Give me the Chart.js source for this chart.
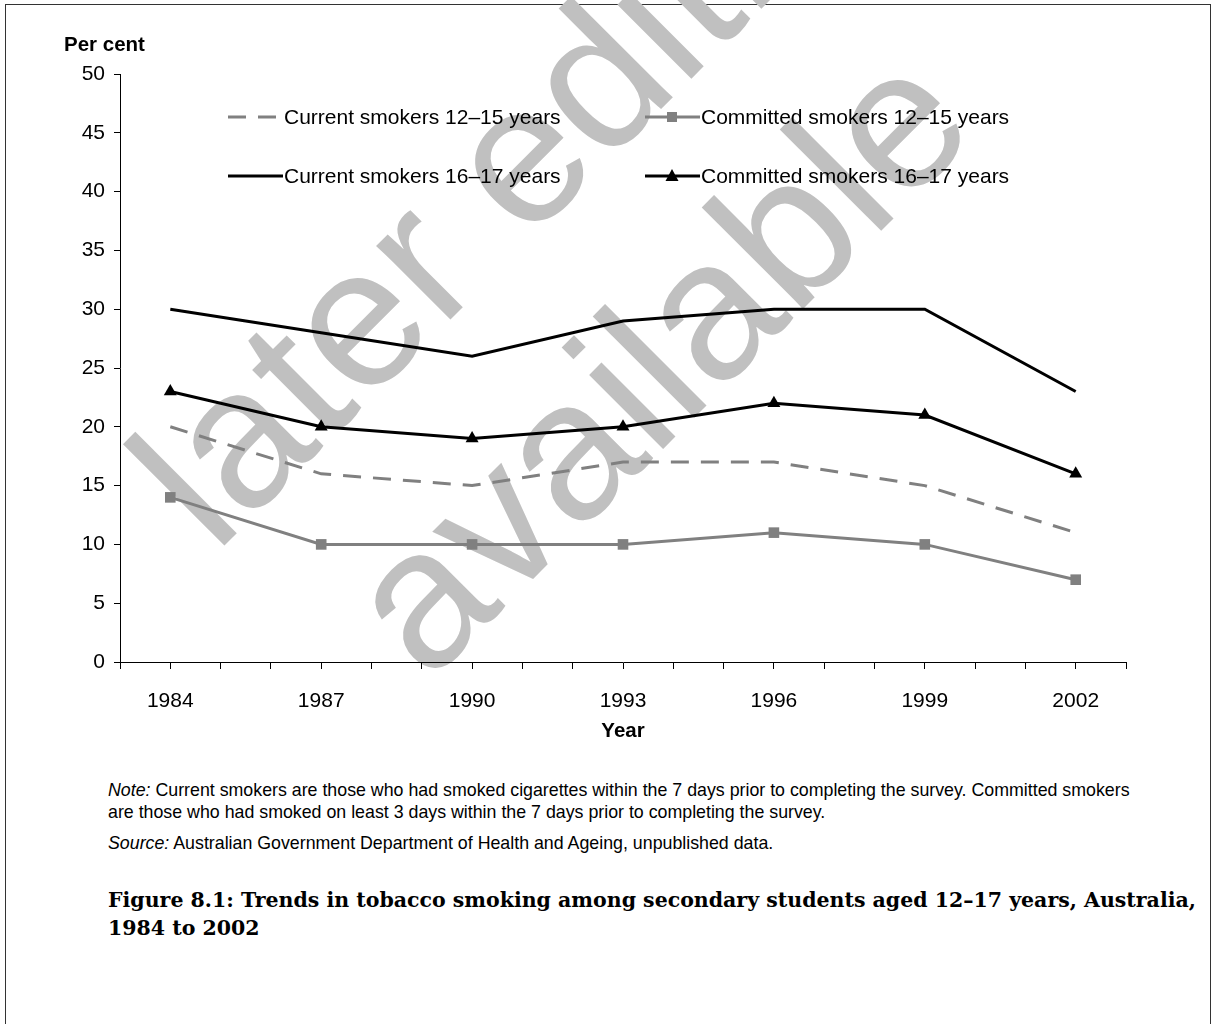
<!DOCTYPE html>
<html>
<head>
<meta charset="utf-8">
<title>Figure 8.1</title>
<script src="https://cdn.jsdelivr.net/npm/chart.js@4.4.1/dist/chart.umd.min.js"></script>
<style>
  body { margin: 0; background: #fff; font-family: "Liberation Sans", Arial, sans-serif; }
  #frame { position: absolute; left: 5px; top: 4px; width: 1206px; height: 1040px; border: 1.5px solid #333; box-sizing: border-box; }
  #chart { position: absolute; left: 0; top: 0; }
  .note { position: absolute; left: 108px; font-size: 17.8px; color: #000; line-height: 22px; white-space: nowrap; }
  .caption { position: absolute; left: 108px; top: 886px; font-family: "DejaVu Serif", serif; font-weight: bold; font-size: 20.5px; line-height: 28px; color: #000; white-space: nowrap; }
</style>
</head>
<body>
<div id="frame"></div>
<canvas id="chart" width="1214" height="760"></canvas>
<div class="note" style="top:779px;"><i>Note:</i> Current smokers are those who had smoked cigarettes within the 7 days prior to completing the survey. Committed smokers<br>are those who had smoked on least 3 days within the 7 days prior to completing the survey.</div>
<div class="note" style="top:832px;"><i>Source:</i> Australian Government Department of Health and Ageing, unpublished data.</div>
<div class="caption">Figure 8.1: Trends in tobacco smoking among secondary students aged 12–17 years, Australia,<br>1984 to 2002</div>
<script>
  // survey years and per cent values
  const years = [1984, 1987, 1990, 1993, 1996, 1999, 2002];
  const current1215 = [20, 16, 15, 17, 17, 15, 11];
  const committed1215 = [14, 10, 10, 10, 11, 10, 7];
  const current1617 = [30, 28, 26, 29, 30, 30, 23];
  const committed1617 = [23, 20, 19, 20, 22, 21, 16];

  const seriesNames = [
    'Current smokers 12–15 years',
    'Committed smokers 12–15 years',
    'Current smokers 16–17 years',
    'Committed smokers 16–17 years'
  ];

  const FONT = '"Liberation Sans", Arial, sans-serif';

  function points(vals) {
    return years.map((yr, i) => ({ x: yr, y: vals[i] }));
  }

  // big grey "later edition available" stamp behind the chart
  const watermark = {
    id: 'watermark',
    beforeDraw(chart) {
      const ctx = chart.ctx;
      ctx.save();
      ctx.fillStyle = '#c0c0c0';
      ctx.font = '198px ' + FONT;
      ctx.textBaseline = 'alphabetic';
      ctx.translate(215, 555);
      ctx.rotate(-Math.PI / 4);
      ctx.fillText('later edition', 0, 0);
      ctx.restore();
      ctx.save();
      ctx.fillStyle = '#c0c0c0';
      ctx.font = '198px ' + FONT;
      ctx.translate(428, 684);
      ctx.rotate(-Math.PI / 4);
      ctx.fillText('available', 0, 0);
      ctx.restore();
    }
  };

  // legend in two columns inside the plot, plus the "Per cent" label
  const insideLegend = {
    id: 'insideLegend',
    afterDraw(chart) {
      const ctx = chart.ctx;
      const slots = [[228, 117], [645, 117], [228, 176], [645, 176]];
      ctx.save();
      ctx.font = 'bold 20.5px ' + FONT;
      ctx.fillStyle = '#000';
      ctx.textBaseline = 'middle';
      ctx.fillText('Per cent', 64, 45);

      ctx.font = '21px ' + FONT;
      chart.data.datasets.forEach(ds => {
        const [x, y] = slots[ds.legendSlot];
        ctx.strokeStyle = ds.borderColor;
        ctx.lineWidth = ds.borderWidth;
        ctx.setLineDash(ds.borderDash || []);
        ctx.beginPath();
        ctx.moveTo(x, y);
        ctx.lineTo(x + 55, y);
        ctx.stroke();
        ctx.setLineDash([]);
        const mx = x + 27;
        ctx.fillStyle = ds.pointBackgroundColor || ds.borderColor;
        if (ds.pointStyle === 'rect' && ds.pointRadius > 0) {
          ctx.fillRect(mx - 5, y - 5, 10, 10);
        } else if (ds.pointStyle === 'triangle' && ds.pointRadius > 0) {
          ctx.beginPath();
          ctx.moveTo(mx, y - 7);
          ctx.lineTo(mx + 6.5, y + 5);
          ctx.lineTo(mx - 6.5, y + 5);
          ctx.closePath();
          ctx.fill();
        }
        ctx.fillStyle = '#000';
        ctx.textAlign = 'left';
        ctx.fillText(ds.label, x + 56, y + 1);
      });
      ctx.restore();
    }
  };

  const ctx = document.getElementById('chart').getContext('2d');
  new Chart(ctx, {
    type: 'line',
    data: {
      datasets: [
        {
          label: seriesNames[1],
          legendSlot: 1,
          data: points(committed1215),
          borderColor: '#808080',
          pointBackgroundColor: '#808080',
          borderWidth: 3,
          pointStyle: 'rect',
          pointRadius: 7.5,
          pointBorderWidth: 0
        },
        {
          label: seriesNames[0],
          legendSlot: 0,
          data: points(current1215),
          borderColor: '#808080',
          borderWidth: 3,
          borderDash: [18, 12],
          pointRadius: 0
        },
        {
          label: seriesNames[2],
          legendSlot: 2,
          data: points(current1617),
          borderColor: '#000',
          borderWidth: 3,
          pointRadius: 0
        },
        {
          label: seriesNames[3],
          legendSlot: 3,
          data: points(committed1617),
          borderColor: '#000',
          pointBackgroundColor: '#000',
          borderWidth: 3,
          pointStyle: 'triangle',
          pointRadius: 7.5,
          pointBorderWidth: 0
        }
      ]
    },
    options: {
      responsive: false,
      animation: false,
      events: [],
      layout: { padding: { left: 0, top: 74, right: 88, bottom: 16 } },
      plugins: { legend: { display: false }, tooltip: { enabled: false } },
      elements: { line: { tension: 0 } },
      scales: {
        x: {
          type: 'linear',
          min: 1983,
          max: 2003,
          afterFit: s => { s.height = 82; },
          border: { color: '#000', width: 1 },
          grid: { drawOnChartArea: false, tickLength: 7, color: '#000' },
          ticks: {
            stepSize: 1,
            autoSkip: false,
            maxRotation: 0,
            padding: 20,
            color: '#000',
            font: { family: FONT, size: 21 },
            callback: v => years.includes(v) ? String(v) : ''
          },
          title: {
            display: true,
            text: 'Year',
            color: '#000',
            padding: 0,
            font: { family: FONT, size: 20.5, weight: 'bold' }
          }
        },
        y: {
          min: 0,
          max: 50,
          afterFit: s => { s.width = 120; },
          border: { color: '#000', width: 1 },
          grid: { drawOnChartArea: false, tickLength: 6, color: '#000' },
          ticks: {
            stepSize: 5,
            padding: 9,
            color: '#000',
            font: { family: FONT, size: 21 }
          }
        }
      }
    },
    plugins: [watermark, insideLegend]
  });
</script>
</body>
</html>
